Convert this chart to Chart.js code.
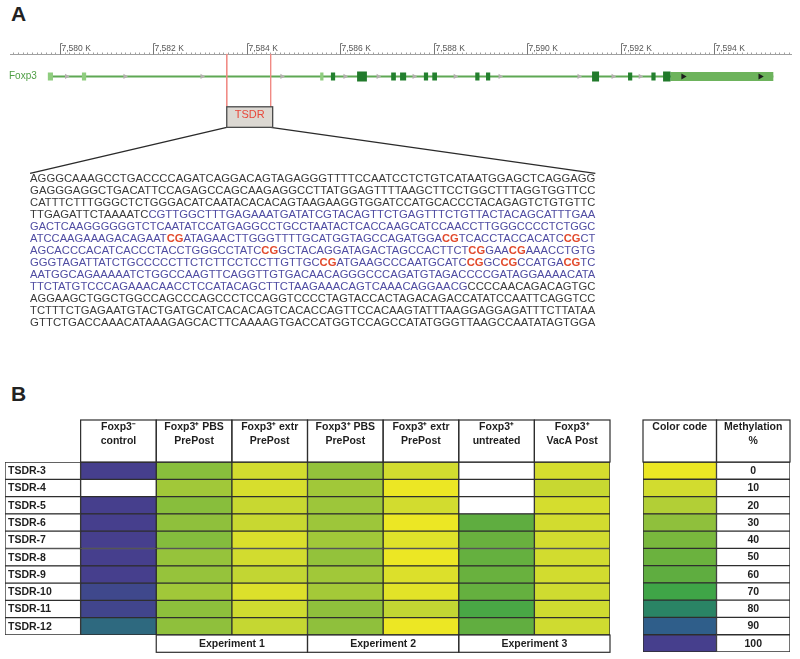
<!DOCTYPE html>
<html>
<head>
<meta charset="utf-8">
<script src="https://cdn.jsdelivr.net/npm/chart.js@4.4.0/dist/chart.umd.min.js"></script>
<style>
    body { margin: 0; background: #fff; width: 800px; height: 659px; position: relative; overflow: hidden; font-family: Arial, "Liberation Sans", sans-serif; }
    .lettera { position: absolute; font-weight: bold; font-size: 21px; color: #222; }
    canvas { position: absolute; }
</style>
</head>
<body>
<div class="lettera" style="left:11px;top:2px">A</div>
<div class="lettera" style="left:11px;top:382px">B</div>
<canvas id="graficoGene" width="800" height="380" style="left:0;top:0"></canvas>
<canvas id="graficoMetilazione" width="625" height="279" style="left:0;top:380px"></canvas>
<canvas id="graficoLegenda" width="170" height="279" style="left:630px;top:380px"></canvas>
<script>
//---[ DATI PANNELLO A ]---
// Righello genomico (in K)
const righelloTick = [7580, 7582, 7584, 7586, 7588, 7590, 7592, 7594];
const righelloEtichette = ['7,580 K', '7,582 K', '7,584 K', '7,586 K', '7,588 K', '7,590 K', '7,592 K', '7,594 K'];

// Struttura del gene Foxp3 (inizio, fine in K)
const trascritto = [7579.80, 7595.27];
const esoniChiari = [[7579.74, 7579.85], [7580.47, 7580.56], [7585.57, 7585.64]];
const esoniScuri = [[7585.80, 7585.89], [7587.09, 7587.19], [7587.28, 7587.41], [7587.79, 7587.88], [7587.97, 7588.07],
    [7588.89, 7588.98], [7589.12, 7589.21], [7592.16, 7592.25], [7592.66, 7592.75]];
const esoniGrandi = [[7586.36, 7586.57], [7591.39, 7591.54], [7592.91, 7593.07]];
const utr3 = [7593.07, 7595.27];
const frecceIntrone = [7580.14, 7581.39, 7583.04, 7584.75, 7586.10, 7586.81, 7587.58, 7588.46, 7589.42, 7591.11, 7591.84, 7592.42];
const frecceUTR = [7593.34, 7594.99];
const regioneTSDR = [7583.57, 7584.51];

// Sequenza della TSDR: [ ] = regione blu, * * = CpG in rosso
const sequenzaTSDR = [
    'AGGGCAAAGCCTGACCCCAGATCAGGACAGTAGAGGGTTTTCCAATCCTCTGTCATAATGGAGCTCAGGAGG',
    'GAGGGAGGCTGACATTCCAGAGCCAGCAAGAGGCCTTATGGAGTTTTAAGCTTCCTGGCTTTAGGTGGTTCC',
    'CATTTCTTTGGGCTCTGGGACATCAATACACACAGTAAGAAGGTGGATCCATGCACCCTACAGAGTCTGTGTTC',
    'TTGAGATTCTAAAATC[CGTTGGCTTTGAGAAATGATATCGTACAGTTCTGAGTTTCTGTTACTACAGCATTTGAA',
    'GACTCAAGGGGGGTCTCAATATCCATGAGGCCTGCCTAATACTCACCAAGCATCCAACCTTGGGCCCCTCTGGC',
    'ATCCAAGAAAGACAGAAT*CG*ATAGAACTTGGGTTTTGCATGGTAGCCAGATGGA*CG*TCACCTACCACATC*CG*CT',
    'AGCACCCACATCACCCTACCTGGGCCTATC*CG*GCTACAGGATAGACTAGCCACTTCT*CG*GAA*CG*AAACCTGTG',
    'GGGTAGATTATCTGCCCCCTTCTCTTCCTCCTTGTTGC*CG*ATGAAGCCCAATGCATC*CG*GC*CG*CCATGA*CG*TC',
    'AATGGCAGAAAAATCTGGCCAAGTTCAGGTTGTGACAACAGGGCCCAGATGTAGACCCCGATAGGAAAACATA',
    'TTCTATGTCCCAGAAACAACCTCCATACAGCTTCTAAGAAACAGTCAAACAGGAACG]CCCCAACAGACAGTGC',
    'AGGAAGCTGGCTGGCCAGCCCAGCCCTCCAGGTCCCCTAGTACCACTAGACAGACCATATCCAATTCAGGTCC',
    'TCTTTCTGAGAATGTACTGATGCATCACACAGTCACACCAGTTCCACAAGTATTTAAGGAGGAGATTTCTTATAA',
    'GTTCTGACCAAACATAAAGAGCACTTCAAAAGTGACCATGGTCCAGCCATATGGGTTAAGCCAATATAGTGGA'
];

//---[ DATI PANNELLO B ]---
const righeTSDR = ['TSDR-3', 'TSDR-4', 'TSDR-5', 'TSDR-6', 'TSDR-7', 'TSDR-8', 'TSDR-9', 'TSDR-10', 'TSDR-11', 'TSDR-12'];
const intestazioniColonne = [
    ['Foxp3\u207B', 'control'],
    ['Foxp3\u207A PBS', 'PrePost'],
    ['Foxp3\u207A extr', 'PrePost'],
    ['Foxp3\u207A PBS', 'PrePost'],
    ['Foxp3\u207A extr', 'PrePost'],
    ['Foxp3\u207A', 'untreated'],
    ['Foxp3\u207A', 'VacA Post']
];
const esperimenti = ['Experiment 1', 'Experiment 2', 'Experiment 3'];

// Metilazione % (null = non determinato)
const controlloNeg = [100, null, 100, 100, 100, 100, 100, 97, 98, 87];
const pbsEsp1 = [33, 25, 33, 30, 35, 28, 28, 25, 31, 30];
const extrEsp1 = [10, 8, 13, 13, 7, 10, 15, 6, 11, 14];
const pbsEsp2 = [29, 25, 26, 26, 25, 29, 25, 24, 30, 30];
const extrEsp2 = [10, 0, 10, 0, 5, 0, 6, 4, 15, 0];
const nonTrattati = [null, null, null, 60, 52, 55, 52, 55, 67, 58];
const vacaPost = [9, 13, 9, 10, 10, 10, 10, 11, 11, 11];

// Scala colori
const livelliMetilazione = ['0', '10', '20', '30', '40', '50', '60', '70', '80', '90', '100'];
const coloriLivelli = ['#ece724', '#d2dc2f', '#b2cf36', '#8fc03c', '#79b83d', '#6bb23e', '#5fad40', '#3fa547', '#2a8465', '#2f5e8a', '#463f8d'];

//---[ FUNZIONI DI SUPPORTO ]---
function hexToRgb(h) {
    return [parseInt(h.substr(1, 2), 16), parseInt(h.substr(3, 2), 16), parseInt(h.substr(5, 2), 16)];
}

// Colore interpolato dalla scala per un valore di metilazione
function coloreMetilazione(v) {
    if (v === null) return '#ffffff';
    const i = Math.min(9, Math.floor(v / 10));
    const t = (v - i * 10) / 10;
    const a = hexToRgb(coloriLivelli[i]), b = hexToRgb(coloriLivelli[i + 1]);
    const c = a.map((va, k) => Math.round(va + (b[k] - va) * t));
    return `rgb(${c[0]},${c[1]},${c[2]})`;
}

// Segmenti orizzontali separati da buchi (y null)
function segmenti(lista, y) {
    const punti = [];
    lista.forEach(e => {
        punti.push({ x: e[0], y: y }, { x: e[1], y: y }, { x: e[1], y: null });
    });
    return punti;
}

//---[ PANNELLO A: TRACCIA DEL GENE ]---
const yRighello = 51;
const yGene = 74;
const boxTSDR = [105, 126];
const ySequenza = 173;
const sequenzaEstremi = [7579.36, 7591.46];

const pluginTraccia = {
    id: 'traccia',
    beforeDatasetsDraw(chart) {
        const ctx = chart.ctx, sx = chart.scales.x, sy = chart.scales.y, area = chart.chartArea;
        const yR = Math.round(sy.getPixelForValue(yRighello)) + 0.5;
        ctx.save();
        // linea del righello
        ctx.strokeStyle = '#a0a0a0';
        ctx.lineWidth = 1;
        ctx.beginPath();
        ctx.moveTo(area.left, yR);
        ctx.lineTo(area.right, yR);
        ctx.stroke();
        // tacche minori ogni 0.1 K
        ctx.beginPath();
        for (let i = Math.ceil(sx.min * 10); i <= Math.floor(sx.max * 10); i++) {
            const px = Math.round(sx.getPixelForValue(i / 10)) + 0.5;
            ctx.moveTo(px, yR);
            ctx.lineTo(px, yR - 2);
        }
        ctx.stroke();
        // tacche maggiori con etichette
        ctx.strokeStyle = '#777';
        ctx.fillStyle = '#555';
        ctx.font = '8.5px Arial';
        ctx.textAlign = 'left';
        ctx.textBaseline = 'alphabetic';
        righelloTick.forEach((t, i) => {
            const px = Math.round(sx.getPixelForValue(t)) + 0.5;
            ctx.beginPath();
            ctx.moveTo(px, yR);
            ctx.lineTo(px, yR - 11);
            ctx.lineTo(px + 2, yR - 11);
            ctx.stroke();
            ctx.fillText(righelloEtichette[i], px + 1, yR - 4);
        });
        // nome del gene
        ctx.fillStyle = '#4f9e45';
        ctx.font = '10px Arial';
        ctx.textBaseline = 'middle';
        ctx.fillText('Foxp3', 9, sy.getPixelForValue(yGene));
        ctx.restore();
    },
    afterDatasetsDraw(chart) {
        const ctx = chart.ctx, sx = chart.scales.x, sy = chart.scales.y;
        ctx.save();
        // riquadro TSDR
        const x0 = sx.getPixelForValue(regioneTSDR[0]), x1 = sx.getPixelForValue(regioneTSDR[1]) + 2;
        const y0 = sy.getPixelForValue(boxTSDR[0]), y1 = sy.getPixelForValue(boxTSDR[1]);
        ctx.fillStyle = '#dcd8d2';
        ctx.fillRect(x0, y0, x1 - x0, y1 - y0);
        ctx.strokeStyle = '#4a4a4a';
        ctx.lineWidth = 1.3;
        ctx.strokeRect(x0, y0, x1 - x0, y1 - y0);
        ctx.fillStyle = '#e8473a';
        ctx.font = '11px Arial';
        ctx.textAlign = 'center';
        ctx.textBaseline = 'middle';
        ctx.fillText('TSDR', (x0 + x1) / 2, y0 + 8);

        // sequenza, ogni riga adattata alla larghezza del blocco
        const sxA = sx.getPixelForValue(sequenzaEstremi[0]);
        const sxB = sx.getPixelForValue(sequenzaEstremi[1]);
        const larghezza = sxB - sxA;
        const fontNero = '10.5px Arial';
        const fontRosso = 'bold 10.5px Arial';
        let blu = false;
        ctx.textAlign = 'left';
        sequenzaTSDR.forEach((riga, r) => {
            const pezzi = [];
            let rosso = false, buf = '';
            const chiudi = () => {
                if (buf) pezzi.push({ t: buf, c: rosso ? 'r' : (blu ? 'b' : 'k') });
                buf = '';
            };
            for (const ch of riga) {
                if (ch === '[') { chiudi(); blu = true; }
                else if (ch === ']') { chiudi(); blu = false; }
                else if (ch === '*') { chiudi(); rosso = !rosso; }
                else buf += ch;
            }
            chiudi();
            let totale = 0;
            pezzi.forEach(p => {
                ctx.font = p.c === 'r' ? fontRosso : fontNero;
                p.w = ctx.measureText(p.t).width;
                totale += p.w;
            });
            const f = larghezza / totale;
            const yy = sy.getPixelForValue(ySequenza + 5.5 + r * 12.33);
            ctx.save();
            ctx.translate(sxA, yy);
            ctx.scale(f, 1);
            let cx = 0;
            pezzi.forEach(p => {
                ctx.font = p.c === 'r' ? fontRosso : fontNero;
                ctx.fillStyle = p.c === 'r' ? '#e24a2c' : (p.c === 'b' ? '#4f4ca2' : '#3a3a3a');
                ctx.fillText(p.t, cx, 0);
                cx += p.w;
            });
            ctx.restore();
        });
        ctx.restore();
    }
};

function graficoGene() {
    const ctx = document.getElementById('graficoGene').getContext('2d');
    const lineaBase = { type: 'line', pointRadius: 0, borderCapStyle: 'butt', tension: 0, spanGaps: false, fill: false };
    new Chart(ctx, {
        type: 'line',
        data: {
            datasets: [
                Object.assign({}, lineaBase, { data: segmenti([trascritto], yGene), borderColor: '#5fa854', borderWidth: 2, order: 9 }),
                Object.assign({}, lineaBase, { data: segmenti([utr3], yGene), borderColor: '#6db35c', borderWidth: 9, order: 8 }),
                Object.assign({}, lineaBase, { data: segmenti(esoniChiari, yGene), borderColor: '#8fcd7f', borderWidth: 8, order: 7 }),
                Object.assign({}, lineaBase, { data: segmenti(esoniScuri, yGene), borderColor: '#23802e', borderWidth: 8, order: 6 }),
                Object.assign({}, lineaBase, { data: segmenti(esoniGrandi, yGene), borderColor: '#217a2b', borderWidth: 10, order: 5 }),
                {
                    type: 'line', showLine: false, order: 4,
                    data: frecceIntrone.map(v => ({ x: v, y: yGene })),
                    pointStyle: 'triangle', rotation: 90, pointRadius: 3,
                    pointBackgroundColor: '#b5b0b0', pointBorderColor: '#b5b0b0', pointBorderWidth: 0
                },
                {
                    type: 'line', showLine: false, order: 3,
                    data: frecceUTR.map(v => ({ x: v, y: yGene })),
                    pointStyle: 'triangle', rotation: 90, pointRadius: 3.5,
                    pointBackgroundColor: '#1d1d1d', pointBorderColor: '#1d1d1d', pointBorderWidth: 0
                },
                // linee rosse di delimitazione della TSDR
                Object.assign({}, lineaBase, {
                    data: [{ x: regioneTSDR[0], y: yRighello }, { x: regioneTSDR[0], y: boxTSDR[0] }, { x: regioneTSDR[0], y: null },
                        { x: regioneTSDR[1], y: yRighello }, { x: regioneTSDR[1], y: boxTSDR[0] }],
                    borderColor: '#f08a84', borderWidth: 1, order: 2
                }),
                // linee di ingrandimento verso la sequenza
                Object.assign({}, lineaBase, {
                    data: [{ x: regioneTSDR[0], y: boxTSDR[1] }, { x: sequenzaEstremi[0], y: ySequenza }, { x: sequenzaEstremi[0], y: null },
                        { x: regioneTSDR[1], y: boxTSDR[1] }, { x: sequenzaEstremi[1], y: ySequenza }],
                    borderColor: '#2a2a2a', borderWidth: 1.4, order: 1
                })
            ]
        },
        options: {
            responsive: false,
            animation: false,
            layout: { padding: { left: 10, right: 8, top: 0, bottom: 0 } },
            scales: {
                x: { type: 'linear', min: 7578.93, max: 7595.67, display: false },
                y: { type: 'linear', min: 0, max: 380, reverse: true, display: false }
            },
            plugins: { legend: { display: false }, tooltip: { enabled: false } }
        },
        plugins: [pluginTraccia]
    });
}

//---[ PANNELLO B: TABELLA DI METILAZIONE ]---
const bordoTabella = '#2e2e2e';

const pluginTabella = {
    id: 'tabella',
    afterDraw(chart) {
        const ctx = chart.ctx, sx = chart.scales.x, area = chart.chartArea;
        const opz = chart.options.plugins.tabella;
        const altezzaRiga = (area.bottom - area.top) / chart.data.labels.length;
        ctx.save();
        ctx.strokeStyle = bordoTabella;
        ctx.lineWidth = 1.2;
        ctx.font = 'bold 10.5px Arial';
        ctx.textAlign = 'center';
        ctx.textBaseline = 'middle';
        ctx.fillStyle = '#1e1e1e';
        // intestazioni
        opz.intestazioni.forEach((righe, i) => {
            const x0 = sx.getPixelForValue(opz.primaColonna + i), x1 = sx.getPixelForValue(opz.primaColonna + i + 1);
            ctx.strokeRect(x0, area.top - 42, x1 - x0, 42);
            righe.forEach((t, k) => ctx.fillText(t, (x0 + x1) / 2, area.top - 35 + k * 14.5));
        });
        // riga degli esperimenti
        if (opz.esperimenti) {
            opz.esperimenti.forEach((t, i) => {
                const x0 = sx.getPixelForValue(2 + i * 2), x1 = sx.getPixelForValue(4 + i * 2);
                ctx.strokeRect(x0, area.bottom, x1 - x0, altezzaRiga);
                ctx.fillText(t, (x0 + x1) / 2, area.bottom + altezzaRiga / 2 + 0.5);
            });
        }
        // etichette delle righe, nella prima colonna
        if (opz.etichetteRighe) {
            ctx.textAlign = 'left';
            const x0 = sx.getPixelForValue(0);
            chart.data.labels.forEach((t, i) => {
                ctx.fillText(t, x0 + 3, area.top + altezzaRiga * (i + 0.5) + 0.5);
            });
            ctx.textAlign = 'center';
        }
        // valori della legenda
        if (opz.valori) {
            const x0 = sx.getPixelForValue(1), x1 = sx.getPixelForValue(2);
            opz.valori.forEach((t, i) => {
                ctx.fillText(t, (x0 + x1) / 2, area.top + altezzaRiga * (i + 0.5) + 0.5);
            });
        }
        ctx.restore();
    }
};

function datasetCella(valori, sfondo) {
    return {
        data: valori.map(() => 1),
        backgroundColor: sfondo,
        borderColor: bordoTabella,
        borderWidth: 1,
        borderSkipped: false,
        barPercentage: 1,
        categoryPercentage: 1
    };
}

function graficoMetilazione() {
    const colonne = [controlloNeg, pbsEsp1, extrEsp1, pbsEsp2, extrEsp2, nonTrattati, vacaPost];
    const datasets = [datasetCella(righeTSDR, '#ffffff')];
    colonne.forEach(col => {
        datasets.push(datasetCella(col, col.map(v => coloreMetilazione(v))));
    });
    const ctx = document.getElementById('graficoMetilazione').getContext('2d');
    new Chart(ctx, {
        type: 'bar',
        data: { labels: righeTSDR, datasets: datasets },
        options: {
            indexAxis: 'y',
            responsive: false,
            animation: false,
            layout: { padding: { left: 5, right: 15, top: 82, bottom: 24 } },
            scales: {
                x: { type: 'linear', stacked: true, min: 0, max: 8, display: false },
                y: { stacked: true, display: false }
            },
            plugins: {
                legend: { display: false },
                tooltip: { enabled: false },
                tabella: { intestazioni: intestazioniColonne, primaColonna: 1, esperimenti: esperimenti, etichetteRighe: true }
            }
        },
        plugins: [pluginTabella]
    });
}

function graficoLegenda() {
    const ctx = document.getElementById('graficoLegenda').getContext('2d');
    new Chart(ctx, {
        type: 'bar',
        data: {
            labels: livelliMetilazione,
            datasets: [datasetCella(livelliMetilazione, coloriLivelli), datasetCella(livelliMetilazione, '#ffffff')]
        },
        options: {
            indexAxis: 'y',
            responsive: false,
            animation: false,
            layout: { padding: { left: 13, right: 10, top: 82, bottom: 7 } },
            scales: {
                x: { type: 'linear', stacked: true, min: 0, max: 2, display: false },
                y: { stacked: true, display: false }
            },
            plugins: {
                legend: { display: false },
                tooltip: { enabled: false },
                tabella: { intestazioni: [['Color code'], ['Methylation', '%']], primaColonna: 0, valori: livelliMetilazione }
            }
        },
        plugins: [pluginTabella]
    });
}

graficoGene();
graficoMetilazione();
graficoLegenda();
</script>
</body>
</html>
